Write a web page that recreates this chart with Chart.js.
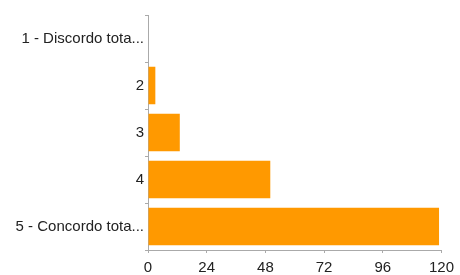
<!DOCTYPE html>
<html><head><meta charset="utf-8">
<script src="https://cdn.jsdelivr.net/npm/chart.js@4/dist/chart.umd.min.js"></script>
<style>html,body{margin:0;padding:0;background:#fff}#w{width:460px;height:275px}</style>
</head><body><div id="w"><canvas id="c"></canvas></div>
<script>
const categories = ["1 - Discordo tota...", "2", "3", "4", "5 - Concordo tota..."];
const values = [0, 3, 13, 50, 119];
const xTicks = [0, 24, 48, 72, 96, 120];

new Chart(document.getElementById('c'), {
  type: 'bar',
  data: { labels: categories, datasets: [{ data: values, backgroundColor: '#ff9900', borderWidth: 0, barPercentage: 0.8, categoryPercentage: 1 }] },
  options: {
    indexAxis: 'y', responsive: true, maintainAspectRatio: false, animation: false,
    layout: { padding: { top: 15, right: 17, left: 0, bottom: 0 } },
    plugins: { legend: { display: false }, tooltip: { enabled: false } },
    scales: {
      x: {
        min: 0, max: 120,
        afterBuildTicks: s => { s.ticks = xTicks.map(v => ({ value: v })); },
        afterFit: s => { s.height = 25; },
        grid: { drawOnChartArea: false, tickLength: 3, color: '#aaa' },
        border: { color: '#aaa' },
        ticks: { color: '#222', padding: 6, font: { family: 'Liberation Sans, Arial', size: 15 }, maxRotation: 0 }
      },
      y: {
        afterFit: s => { s.width = 148; },
        grid: { drawOnChartArea: false, tickLength: 3, color: '#aaa' },
        border: { color: '#aaa' },
        ticks: { color: '#222', padding: 1, font: { family: 'Liberation Sans, Arial', size: 15 } }
      }
    }
  }
});
</script></body></html>
